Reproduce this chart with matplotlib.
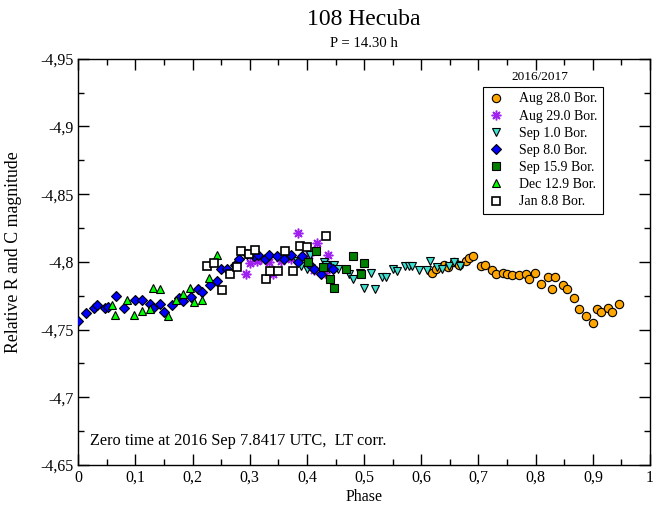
import matplotlib
matplotlib.use("Agg")
import matplotlib.pyplot as plt
from matplotlib.ticker import MultipleLocator, FuncFormatter

plt.rcParams['font.family'] = ['Liberation Serif', 'DejaVu Serif']
plt.rcParams['mathtext.fontset'] = 'stix'

title = "108 Hecuba"
subtitle = "P = 14.30 h"
xlabel = "Phase"
ylabel = "Relative R and C magnitude"
legend_title = "2016/2017"
note = "Zero time at 2016 Sep 7.8417 UTC,  LT corr."

# Aug 28.0 Bor.
aug28_phase = [0.619, 0.625, 0.640, 0.646, 0.658, 0.666, 0.678, 0.684, 0.691, 0.704,
               0.711, 0.724, 0.730, 0.743, 0.750, 0.758, 0.770, 0.783, 0.789, 0.799,
               0.809, 0.822, 0.829, 0.834, 0.848, 0.855, 0.867, 0.875, 0.888, 0.900,
               0.907, 0.914, 0.926, 0.933, 0.946]
aug28_mag = [-4.792, -4.795, -4.798, -4.796, -4.800, -4.798, -4.801, -4.803, -4.804, -4.797,
             -4.798, -4.794, -4.791, -4.792, -4.791, -4.790, -4.790, -4.791, -4.787, -4.792,
             -4.784, -4.789, -4.780, -4.789, -4.783, -4.780, -4.773, -4.765, -4.760, -4.755,
             -4.765, -4.763, -4.766, -4.763, -4.769]

# Aug 29.0 Bor.
aug29_phase = [0.294, 0.300, 0.313, 0.320, 0.333, 0.340, 0.354, 0.373, 0.385, 0.403,
               0.412, 0.417, 0.431, 0.437]
aug29_mag = [-4.791, -4.799, -4.801, -4.802, -4.800, -4.791, -4.801, -4.802, -4.821, -4.805,
             -4.794, -4.814, -4.792, -4.805]

# Sep 1.0 Bor.
sep1_phase = [0.382, 0.390, 0.401, 0.406, 0.430, 0.434, 0.447, 0.454, 0.473, 0.480,
              0.493, 0.499, 0.512, 0.519, 0.532, 0.538, 0.551, 0.558, 0.571, 0.578,
              0.584, 0.596, 0.610, 0.616, 0.628, 0.637, 0.649, 0.657, 0.668]
sep1_mag = [-4.801, -4.797, -4.795, -4.805, -4.800, -4.798, -4.798, -4.795, -4.791, -4.787,
            -4.792, -4.781, -4.792, -4.780, -4.789, -4.789, -4.795, -4.793, -4.797, -4.797,
            -4.797, -4.794, -4.794, -4.801, -4.796, -4.795, -4.797, -4.800, -4.797]

# Sep 8.0 Bor.
sep8_phase = [0.000, 0.014, 0.027, 0.033, 0.047, 0.053, 0.067, 0.080, 0.099, 0.112,
              0.126, 0.131, 0.144, 0.151, 0.164, 0.177, 0.184, 0.197, 0.209, 0.216,
              0.230, 0.243, 0.249, 0.261, 0.274, 0.281, 0.295, 0.307, 0.315, 0.327,
              0.333, 0.347, 0.360, 0.373, 0.385, 0.392, 0.406, 0.412, 0.425, 0.438,
              0.446]
sep8_mag = [-4.756, -4.762, -4.766, -4.768, -4.766, -4.767, -4.775, -4.766, -4.772, -4.772,
            -4.769, -4.766, -4.769, -4.763, -4.768, -4.773, -4.771, -4.774, -4.780, -4.778,
            -4.783, -4.786, -4.795, -4.795, -4.798, -4.802, -4.806, -4.804, -4.805, -4.802,
            -4.805, -4.804, -4.802, -4.805, -4.800, -4.804, -4.798, -4.795, -4.791, -4.796,
            -4.795]

# Sep 15.9 Bor.
sep15_phase = [0.402, 0.416, 0.429, 0.441, 0.448, 0.469, 0.481, 0.494, 0.500]
sep15_mag = [-4.800, -4.808, -4.796, -4.787, -4.781, -4.795, -4.804, -4.791, -4.799]

# Dec 12.9 Bor.
dec12_phase = [0.060, 0.065, 0.086, 0.098, 0.112, 0.126, 0.131, 0.144, 0.158, 0.171,
               0.183, 0.196, 0.203, 0.216, 0.229, 0.242]
dec12_mag = [-4.768, -4.761, -4.772, -4.761, -4.764, -4.765, -4.781, -4.780, -4.760, -4.772,
             -4.776, -4.781, -4.770, -4.772, -4.788, -4.805]

# Jan 8.8 Bor.
jan8_phase = [0.225, 0.238, 0.251, 0.265, 0.278, 0.284, 0.298, 0.309, 0.329, 0.336,
              0.349, 0.362, 0.375, 0.388, 0.400, 0.433]
jan8_mag = [-4.797, -4.799, -4.779, -4.791, -4.796, -4.808, -4.806, -4.809, -4.787, -4.793,
            -4.793, -4.808, -4.793, -4.812, -4.811, -4.819]

fig = plt.figure(figsize=(6.62, 5.07), dpi=100)
ax = fig.add_axes([0.118, 0.083, 0.864, 0.801])

ax.plot(aug28_phase, aug28_mag, 'o', ms=6, mfc='#FFA500', mec='black', mew=0.8,
        label='Aug 28.0 Bor.', zorder=3)
ax.plot(aug29_phase, aug29_mag, marker=(8, 2, 0), ls='none', ms=7, color='#A020F0',
        mew=1.1, label='Aug 29.0 Bor.', zorder=3)
ax.plot(sep1_phase, sep1_mag, 'v', ms=6, mfc='#40E0D0', mec='black', mew=0.8,
        label='Sep 1.0 Bor.', zorder=3)
ax.plot(sep8_phase, sep8_mag, 'D', ms=4.8, mfc='#0000FF', mec='black', mew=0.8,
        label='Sep 8.0 Bor.', zorder=3)
ax.plot(sep15_phase, sep15_mag, 's', ms=5.5, mfc='#008000', mec='black', mew=0.8,
        label='Sep 15.9 Bor.', zorder=3)
ax.plot(dec12_phase, dec12_mag, '^', ms=6, mfc='#00FF00', mec='black', mew=0.8,
        label='Dec 12.9 Bor.', zorder=3)
ax.plot(jan8_phase, jan8_mag, 's', ms=5.5, mfc='white', mec='black', mew=1.2,
        label='Jan 8.8 Bor.', zorder=3)

ax.set_xlim(0, 1)
ax.set_ylim(-4.65, -4.95)

ax.xaxis.set_major_locator(MultipleLocator(0.1))
ax.xaxis.set_minor_locator(MultipleLocator(0.05))
ax.yaxis.set_major_locator(MultipleLocator(0.05))
ax.yaxis.set_minor_locator(MultipleLocator(0.025))

def fmt(v, pos):
    s = ('%.2f' % v).rstrip('0').rstrip('.')
    if s in ('-0', ''):
        s = '0'
    return s.replace('.', ',')

ax.xaxis.set_major_formatter(FuncFormatter(fmt))
ax.yaxis.set_major_formatter(FuncFormatter(fmt))

ax.tick_params(which='both', direction='in', top=True, right=True, labelsize=11.5)
ax.tick_params(which='major', length=8, width=1)
ax.tick_params(which='minor', length=4, width=1)
for sp in ax.spines.values():
    sp.set_linewidth(1)

ax.set_xlabel(xlabel, fontsize=11.5, labelpad=2)
ax.set_ylabel(ylabel, fontsize=12.8, labelpad=6)
ax.yaxis.set_label_coords(-0.098, 0.525)

fig.text(0.55, 0.962, title, ha='center', va='center', fontsize=17)
fig.text(0.55, 0.915, subtitle, ha='center', va='center', fontsize=10.6)

leg = ax.legend(loc='upper right', bbox_to_anchor=(0.918, 0.931), fontsize=10,
                frameon=True, fancybox=False, edgecolor='black', framealpha=1,
                handletextpad=1.2, borderpad=0.4, labelspacing=0.3, handlelength=1.0,
                numpoints=1, borderaxespad=0)
leg.get_frame().set_linewidth(0.8)
ax.text(0.808, 0.956, legend_title, transform=ax.transAxes, ha='center', va='center',
        fontsize=9.5)

ax.text(0.02, 0.06, note, transform=ax.transAxes, ha='left', va='center', fontsize=11.8)

fig.savefig('out.png', dpi=100)
